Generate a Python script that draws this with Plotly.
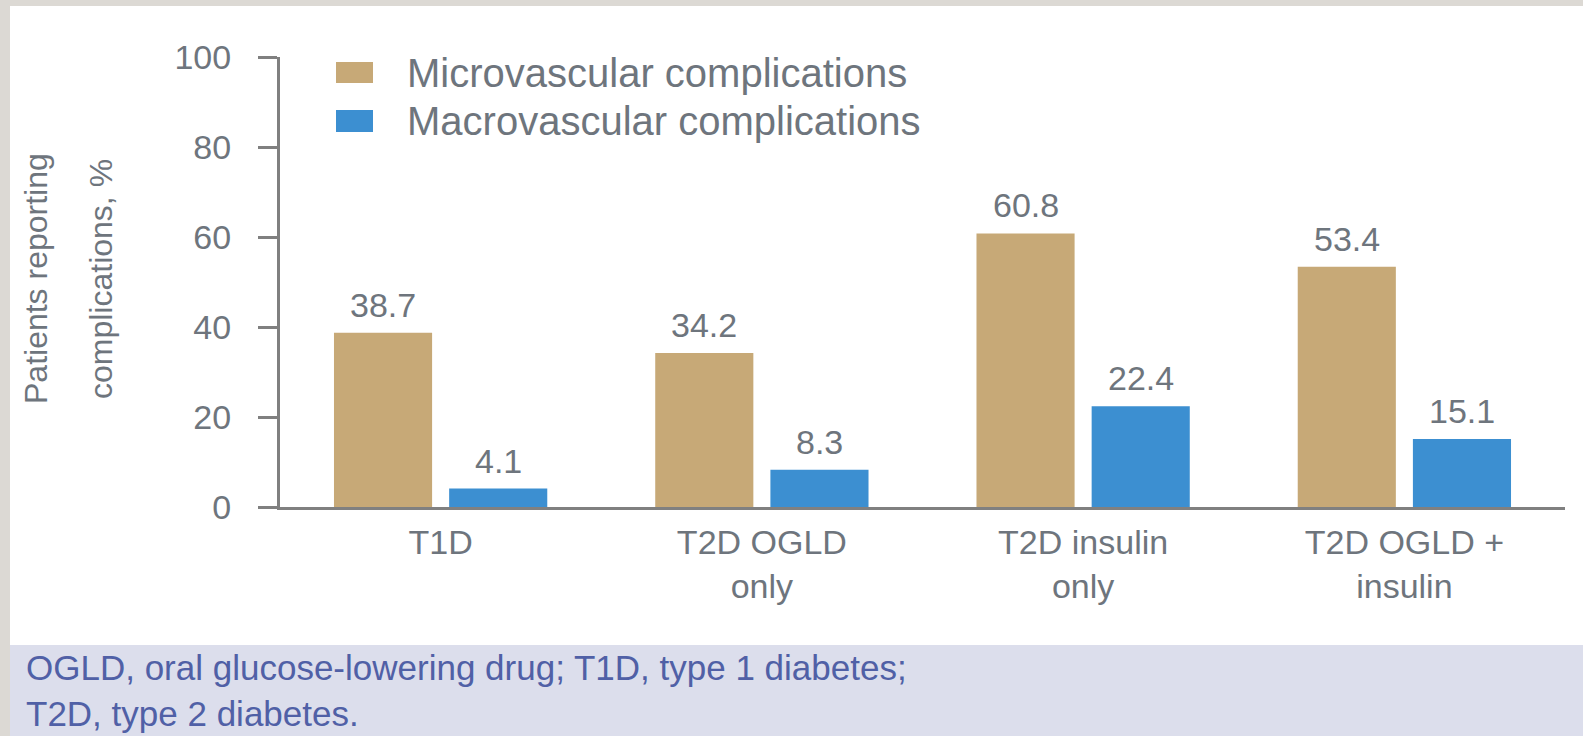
import plotly.graph_objects as go

categories = ["T1D", "T2D OGLD<br>only", "T2D insulin<br>only", "T2D OGLD +<br>insulin"]
micro = [38.7, 34.2, 60.8, 53.4]
macro = [4.1, 8.3, 22.4, 15.1]
series_names = ["Microvascular complications", "Macrovascular complications"]
y_ticks = [0, 20, 40, 60, 80, 100]
y_title_lines = ["Patients reporting", "complications, %"]
footnote_lines = ["OGLD, oral glucose-lowering drug; T1D, type 1 diabetes;",
                  "T2D, type 2 diabetes."]

TAN = "#C7A977"
BLUE = "#3C8FD1"
AXIS = "#808080"
TXT = "#6E757D"
FOOT = "#5060A6"
FONT = "Liberation Sans, Arial, sans-serif"

WIDTH, HEIGHT = 1583, 736
L, R, T, B = 280, 1565, 57, 507
PW, PH = R - L, B - T


def px(x):
    return (x - L) / PW


def py(y):
    return (B - y) / PH


fig = go.Figure()
fig.add_trace(go.Bar(x=categories, y=micro, name=series_names[0],
                     marker=dict(color=TAN, line=dict(width=0)), showlegend=False))
fig.add_trace(go.Bar(x=categories, y=macro, name=series_names[1],
                     marker=dict(color=BLUE, line=dict(width=0)), showlegend=False))

annotations = []
for series, shift in ((micro, -57.5), (macro, 57.5)):
    for c, v in zip(categories, series):
        annotations.append(dict(x=c, y=v, xref="x", yref="y", text=f"{v:.1f}",
                                showarrow=False, xanchor="center", yanchor="bottom",
                                xshift=shift, yshift=7,
                                font=dict(family=FONT, size=34, color=TXT)))

# y-axis title (two lines)
for xp, line in zip((36, 101), y_title_lines):
    annotations.append(dict(x=px(xp), y=py(279), xref="paper", yref="paper", text=line,
                            textangle=-90, showarrow=False, xanchor="center", yanchor="middle",
                            font=dict(family=FONT, size=32, color=TXT)))

# legend text
for yp, name in zip((73, 121), series_names):
    annotations.append(dict(x=px(405), y=py(yp), xref="paper", yref="paper", text=name,
                            showarrow=False, xanchor="left", yanchor="middle",
                            font=dict(family=FONT, size=40, color=TXT)))

# footnote
annotations.append(dict(x=px(24), y=py(690), xref="paper", yref="paper",
                        text="<br>".join(footnote_lines), align="left",
                        showarrow=False, xanchor="left", yanchor="middle",
                        font=dict(family=FONT, size=35, color=FOOT)))

shapes = [
    dict(type="rect", xref="paper", yref="paper", x0=px(10), x1=px(1600), y0=py(645), y1=py(6),
         fillcolor="white", line=dict(width=0), layer="below"),
    dict(type="rect", xref="paper", yref="paper", x0=px(10), x1=px(1600), y0=py(745), y1=py(645),
         fillcolor="#DCDEEC", line=dict(width=0), layer="below"),
    dict(type="rect", xref="paper", yref="paper", x0=px(336), x1=px(373), y0=py(83), y1=py(62),
         fillcolor=TAN, line=dict(width=0), layer="above"),
    dict(type="rect", xref="paper", yref="paper", x0=px(336), x1=px(373), y0=py(132), y1=py(110),
         fillcolor=BLUE, line=dict(width=0), layer="above"),
]

fig.update_layout(
    width=WIDTH, height=HEIGHT,
    margin=dict(l=L, r=WIDTH - R, t=T, b=HEIGHT - B, autoexpand=False),
    paper_bgcolor="#DCD9D4", plot_bgcolor="white",
    barmode="group", bargap=0.283, bargroupgap=0.148,
    showlegend=False,
    font=dict(family=FONT, color=TXT),
    annotations=annotations, shapes=shapes,
    xaxis=dict(range=[-0.5, 3.5], showline=True, linewidth=3, linecolor=AXIS,
               ticks="", showgrid=False, zeroline=False, ticklabelstandoff=3,
               tickfont=dict(family=FONT, size=34, color=TXT)),
    yaxis=dict(range=[0, 100], tickvals=y_ticks, showline=True, linewidth=3, linecolor=AXIS,
               ticks="outside", ticklen=19, tickwidth=3, tickcolor=AXIS,
               showgrid=False, zeroline=False, ticklabelstandoff=20,
               tickfont=dict(family=FONT, size=34, color=TXT)),
)

fig.write_html("out.html", config={"displayModeBar": False},
               post_script="document.body.style.margin='0px';")
